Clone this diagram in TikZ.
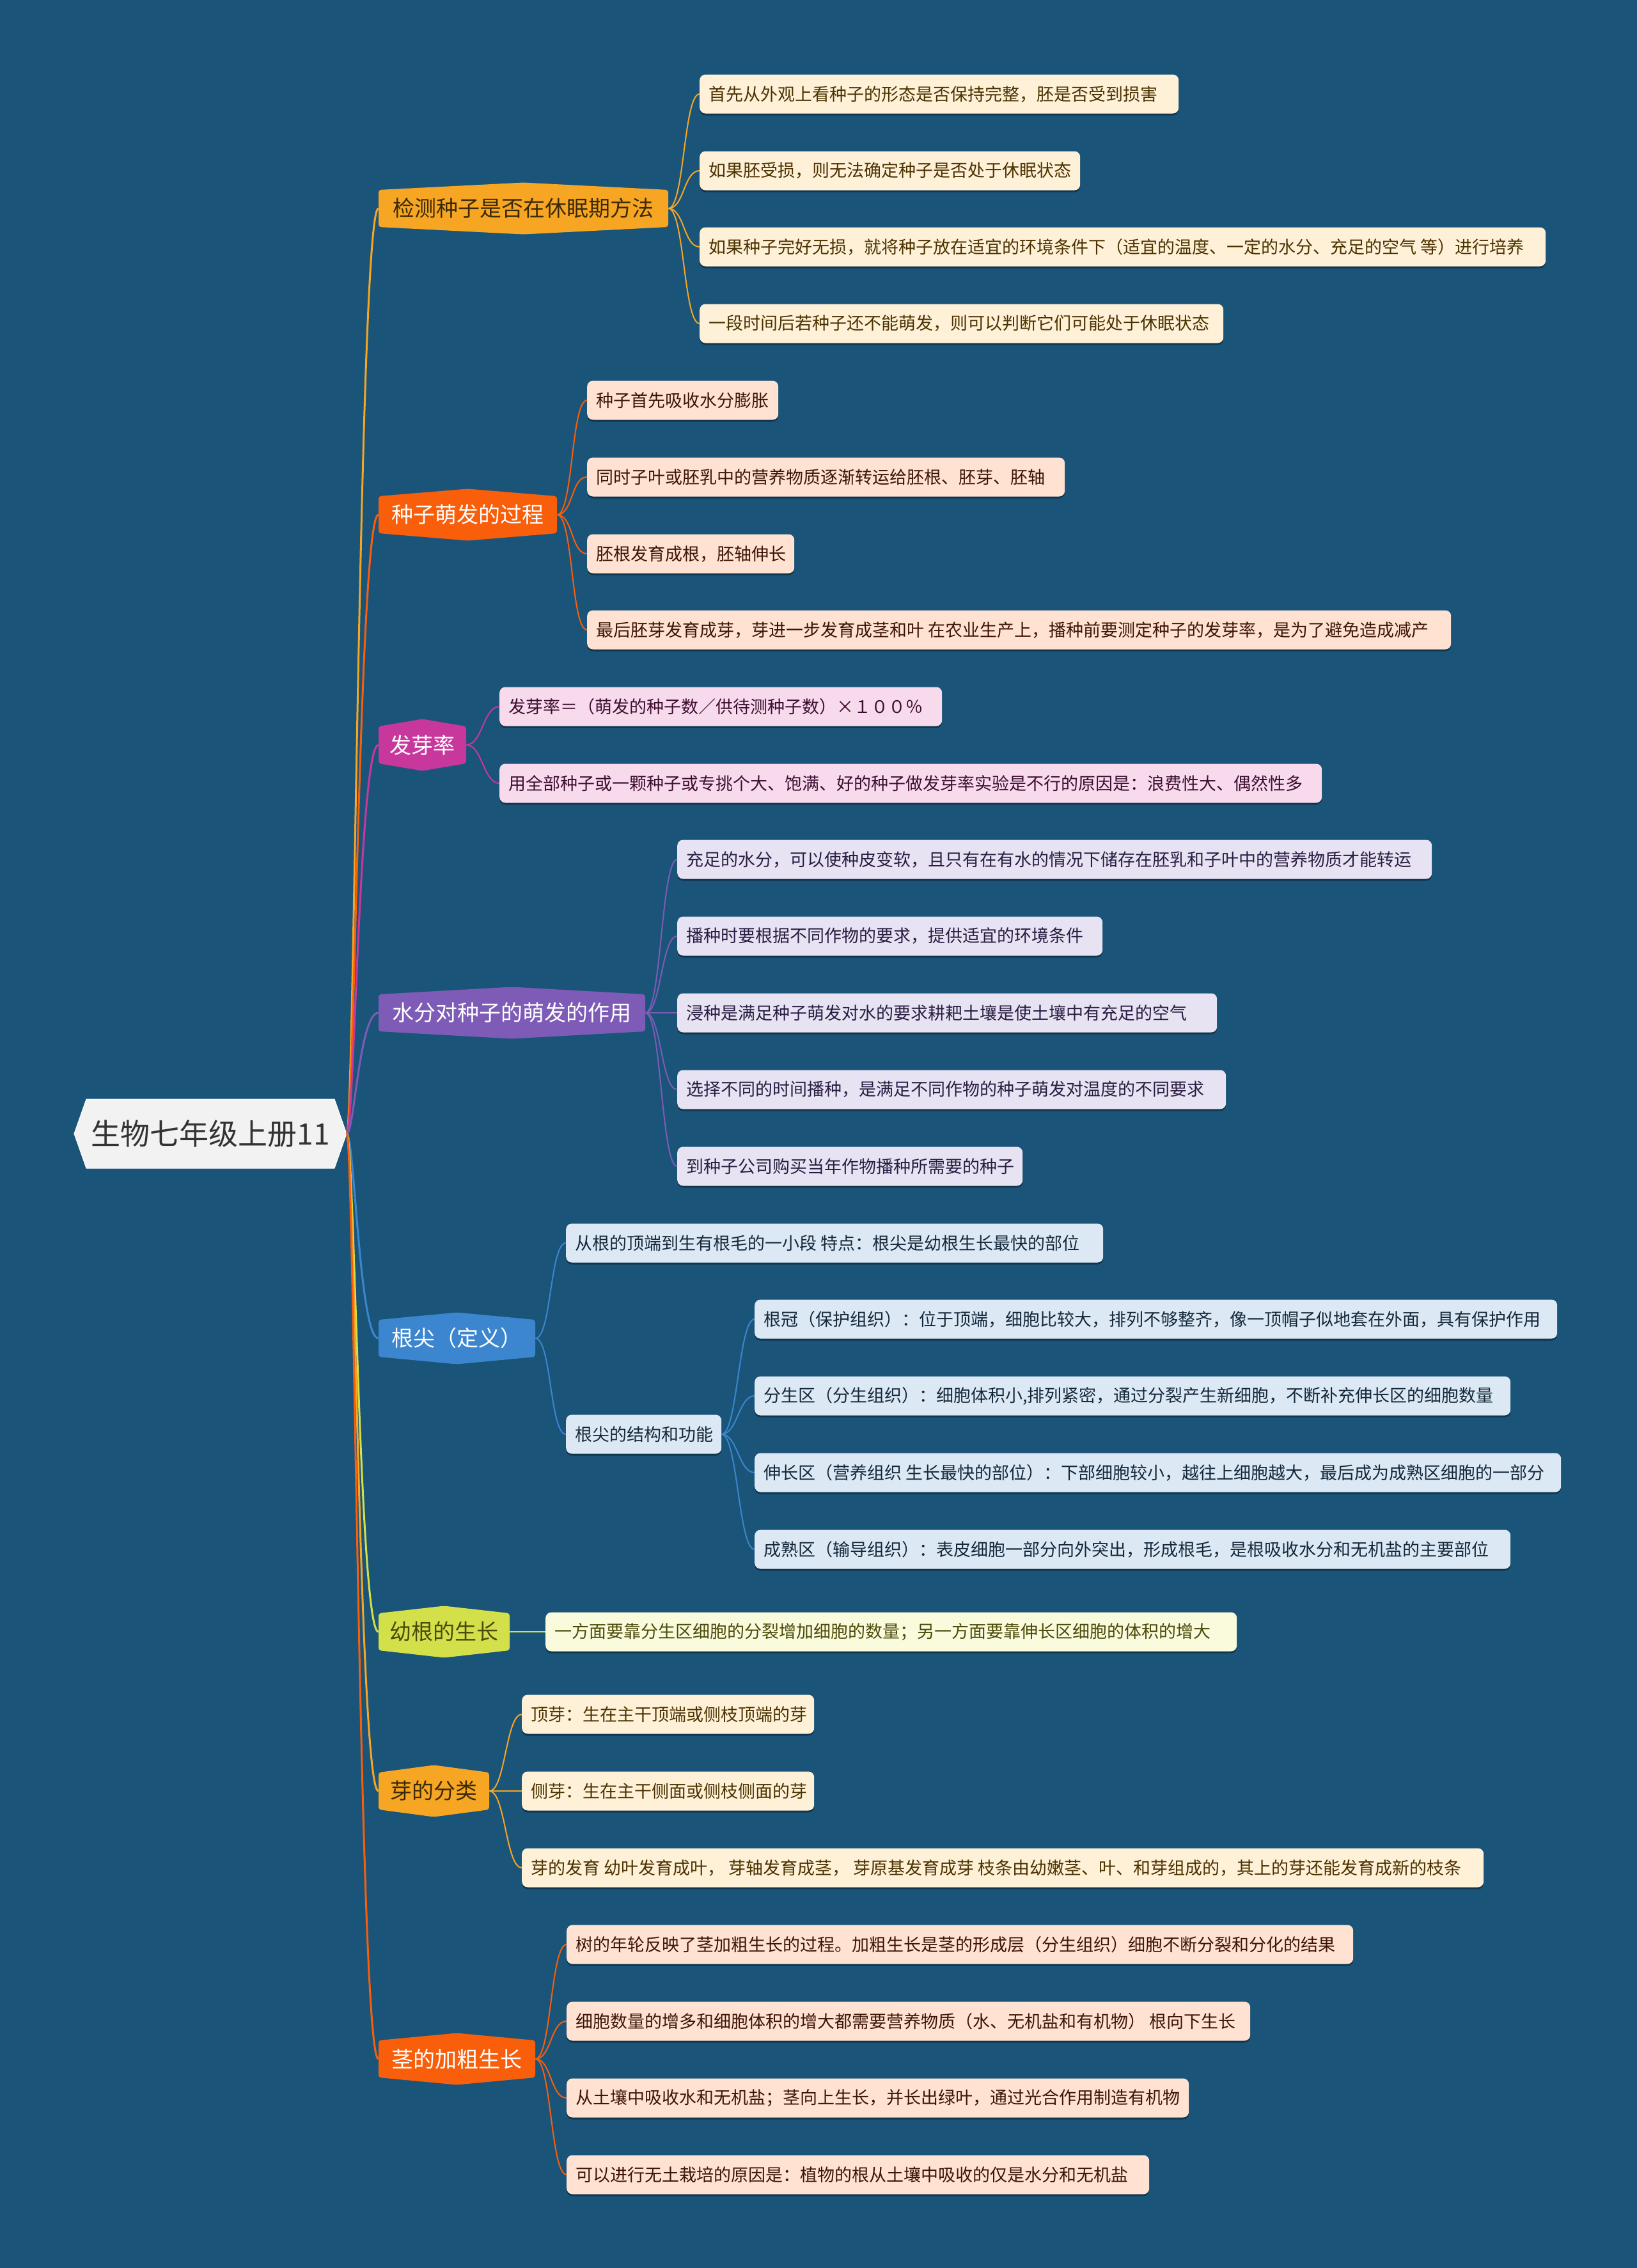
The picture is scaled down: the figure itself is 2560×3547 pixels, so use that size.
\documentclass[tikz,border=0pt]{standalone}
\usepackage{fontspec}
\setmainfont{Noto Sans CJK SC}
\usetikzlibrary{shadows}
\definecolor{bgc}{HTML}{1B5479}
\definecolor{cA}{HTML}{F6A623}
\definecolor{cB}{HTML}{F95E0B}
\definecolor{cC}{HTML}{C8389C}
\definecolor{cD}{HTML}{7D5BB6}
\definecolor{cE}{HTML}{3B86CF}
\definecolor{cF}{HTML}{D3E04A}
\definecolor{fA}{HTML}{FFF1D8}
\definecolor{fB}{HTML}{FFE2D2}
\definecolor{fC}{HTML}{F7DAEC}
\definecolor{fD}{HTML}{E8E3F3}
\definecolor{fE}{HTML}{DCE9F5}
\definecolor{fF}{HTML}{FAFADC}
\definecolor{tA}{HTML}{4B3200}
\definecolor{tB}{HTML}{3D1505}
\definecolor{tC}{HTML}{3D0D30}
\definecolor{tD}{HTML}{2A1D42}
\definecolor{tE}{HTML}{15283A}
\definecolor{tF}{HTML}{4A4A0A}
\definecolor{tM}{HTML}{3B2A05}
\definecolor{rootf}{HTML}{F2F2F2}
\definecolor{roott}{HTML}{333333}
\tikzset{
  leafbox/.style={rounded corners=9bp, minimum height=61bp, inner xsep=14bp, inner ysep=0bp,
    font=\fontsize{27bp}{32bp}\selectfont,
    drop shadow={shadow xshift=0bp, shadow yshift=-3bp, fill=black, opacity=0.35}},
  mainbox/.style={inner sep=0bp, minimum height=58bp, font=\fontsize{34bp}{40bp}\selectfont},
  link/.style={line width=2bp},
  rootlink/.style={line width=3bp},
}
\newcommand\leafnode[7]{%
  \pgfmathsetmacro\lw{#5-#4}%
  \node[leafbox, fill=#2, text=#3, minimum width=\lw bp, anchor=west] (#1) at (#4,#6) {\makebox[\dimexpr\lw bp-28bp\relax][l]{#7}};%
}
\newcommand\mainnode[7]{%
  \pgfmathsetmacro\mx{(#4+#5)/2}%
  \pgfmathsetmacro\mw{#5-#4}%
  \fill[#2, rounded corners=4bp] (#4,#6-29) -- (\mx,#6-40.5) -- (#5,#6-29) -- (#5,#6+29) -- (\mx,#6+40.5) -- (#4,#6+29) -- cycle;%
  \node[mainbox, text=#3, minimum width=\mw bp] (#1) at (\mx,#6) {#7};%
}
\begin{document}
\begin{tikzpicture}[x=1bp,y=-1bp]
\useasboundingbox (0,0) rectangle (2560,3547);
\fill[bgc] (0,0) rectangle (2560,3547);

% root
\fill[rootf, draw=white, line width=1bp] (116,1773) -- (135,1719) -- (523,1719) -- (542,1773) -- (523,1827) -- (135,1827) -- cycle;
\node[inner sep=0bp, minimum width=426bp, minimum height=108bp, text=roott, font=\fontsize{46bp}{54bp}\selectfont] (root) at (329,1773) {生物七年级上册11};

% main branches
\mainnode{m1}{cA}{tM}{592}{1045}{326}{检测种子是否在休眠期方法}
\mainnode{m2}{cB}{white}{592}{871}{805}{种子萌发的过程}
\mainnode{m3}{cC}{white}{592}{729}{1165}{发芽率}
\mainnode{m4}{cD}{white}{592}{1009}{1584}{水分对种子的萌发的作用}
\mainnode{m5}{cE}{white}{592}{837}{2093}{根尖（定义）}
\mainnode{m6}{cF}{tF}{592}{797}{2552}{幼根的生长}
\mainnode{m7}{cA}{tM}{592}{765}{2801}{芽的分类}
\mainnode{m8}{cB}{white}{592}{837}{3220}{茎的加粗生长}

% leaves branch 1
\leafnode{l1a}{fA}{tA}{1094}{1843}{147}{首先从外观上看种子的形态是否保持完整，胚是否受到损害}
\leafnode{l1b}{fA}{tA}{1094}{1689}{267}{如果胚受损，则无法确定种子是否处于休眠状态}
\leafnode{l1c}{fA}{tA}{1094}{2417}{386}{如果种子完好无损，就将种子放在适宜的环境条件下（适宜的温度、一定的水分、充足的空气 等）进行培养}
\leafnode{l1d}{fA}{tA}{1094}{1913}{506}{一段时间后若种子还不能萌发，则可以判断它们可能处于休眠状态}
% branch 2
\leafnode{l2a}{fB}{tB}{918}{1217}{626}{种子首先吸收水分膨胀}
\leafnode{l2b}{fB}{tB}{918}{1665}{746}{同时子叶或胚乳中的营养物质逐渐转运给胚根、胚芽、胚轴}
\leafnode{l2c}{fB}{tB}{918}{1242}{866}{胚根发育成根，胚轴伸长}
\leafnode{l2d}{fB}{tB}{918}{2269}{985}{最后胚芽发育成芽，芽进一步发育成茎和叶 在农业生产上，播种前要测定种子的发芽率，是为了避免造成减产}
% branch 3
\leafnode{l3a}{fC}{tC}{781}{1473}{1105}{发芽率＝（萌发的种子数／供待测种子数）×１００％}
\leafnode{l3b}{fC}{tC}{781}{2067}{1225}{用全部种子或一颗种子或专挑个大、饱满、好的种子做发芽率实验是不行的原因是：浪费性大、偶然性多}
% branch 4
\leafnode{l4a}{fD}{tD}{1059}{2239}{1344}{充足的水分，可以使种皮变软，且只有在有水的情况下储存在胚乳和子叶中的营养物质才能转运}
\leafnode{l4b}{fD}{tD}{1059}{1724}{1464}{播种时要根据不同作物的要求，提供适宜的环境条件}
\leafnode{l4c}{fD}{tD}{1059}{1903}{1584}{浸种是满足种子萌发对水的要求耕耙土壤是使土壤中有充足的空气}
\leafnode{l4d}{fD}{tD}{1059}{1917}{1704}{选择不同的时间播种，是满足不同作物的种子萌发对温度的不同要求}
\leafnode{l4e}{fD}{tD}{1059}{1599}{1824}{到种子公司购买当年作物播种所需要的种子}
% branch 5
\leafnode{l5a}{fE}{tE}{885}{1725}{1944}{从根的顶端到生有根毛的一小段 特点：根尖是幼根生长最快的部位}
\leafnode{l5b}{fE}{tE}{885}{1128}{2243}{根尖的结构和功能}
\leafnode{l5c1}{fE}{tE}{1180}{2435}{2063}{根冠（保护组织）：位于顶端，细胞比较大，排列不够整齐，像一顶帽子似地套在外面，具有保护作用}
\leafnode{l5c2}{fE}{tE}{1180}{2362}{2183}{分生区（分生组织）：细胞体积小,排列紧密，通过分裂产生新细胞，不断补充伸长区的细胞数量}
\leafnode{l5c3}{fE}{tE}{1180}{2441}{2303}{伸长区（营养组织 生长最快的部位）：下部细胞较小，越往上细胞越大，最后成为成熟区细胞的一部分}
\leafnode{l5c4}{fE}{tE}{1180}{2362}{2423}{成熟区（输导组织）：表皮细胞一部分向外突出，形成根毛，是根吸收水分和无机盐的主要部位}
% branch 6
\leafnode{l6a}{fF}{tF}{853}{1934}{2552}{一方面要靠分生区细胞的分裂增加细胞的数量；另一方面要靠伸长区细胞的体积的增大}
% branch 7
\leafnode{l7a}{fA}{tA}{816}{1273}{2681}{顶芽：生在主干顶端或侧枝顶端的芽}
\leafnode{l7b}{fA}{tA}{816}{1273}{2801}{侧芽：生在主干侧面或侧枝侧面的芽}
\leafnode{l7c}{fA}{tA}{816}{2320}{2921}{芽的发育 幼叶发育成叶， 芽轴发育成茎， 芽原基发育成芽 枝条由幼嫩茎、叶、和芽组成的，其上的芽还能发育成新的枝条}
% branch 8
\leafnode{l8a}{fB}{tB}{886}{2116}{3041}{树的年轮反映了茎加粗生长的过程。加粗生长是茎的形成层（分生组织）细胞不断分裂和分化的结果}
\leafnode{l8b}{fB}{tB}{886}{1955}{3161}{细胞数量的增多和细胞体积的增大都需要营养物质（水、无机盐和有机物） 根向下生长}
\leafnode{l8c}{fB}{tB}{886}{1859}{3281}{从土壤中吸收水和无机盐；茎向上生长，并长出绿叶，通过光合作用制造有机物}
\leafnode{l8d}{fB}{tB}{886}{1797}{3401}{可以进行无土栽培的原因是：植物的根从土壤中吸收的仅是水分和无机盐}

% root connectors
\draw[rootlink, cA] (root.east) .. controls +(12,0) and +(-30,0) .. (m1.west);
\draw[rootlink, cB] (root.east) .. controls +(12,0) and +(-30,0) .. (m2.west);
\draw[rootlink, cC] (root.east) .. controls +(12,0) and +(-30,0) .. (m3.west);
\draw[rootlink, cD] (root.east) .. controls +(12,0) and +(-30,0) .. (m4.west);
\draw[rootlink, cE] (root.east) .. controls +(12,0) and +(-30,0) .. (m5.west);
\draw[rootlink, cF] (root.east) .. controls +(12,0) and +(-30,0) .. (m6.west);
\draw[rootlink, cA] (root.east) .. controls +(12,0) and +(-30,0) .. (m7.west);
\draw[rootlink, cB] (root.east) .. controls +(12,0) and +(-30,0) .. (m8.west);

% leaf connectors
\foreach \c in {l1a,l1b,l1c,l1d} \draw[link, cA] (m1.east) .. controls +(25,0) and +(-25,0) .. (\c.west);
\foreach \c in {l2a,l2b,l2c,l2d} \draw[link, cB] (m2.east) .. controls +(25,0) and +(-25,0) .. (\c.west);
\foreach \c in {l3a,l3b} \draw[link, cC] (m3.east) .. controls +(25,0) and +(-25,0) .. (\c.west);
\foreach \c in {l4a,l4b,l4c,l4d,l4e} \draw[link, cD] (m4.east) .. controls +(25,0) and +(-25,0) .. (\c.west);
\foreach \c in {l5a,l5b} \draw[link, cE] (m5.east) .. controls +(25,0) and +(-25,0) .. (\c.west);
\foreach \c in {l5c1,l5c2,l5c3,l5c4} \draw[link, cE] (l5b.east) .. controls +(25,0) and +(-25,0) .. (\c.west);
\draw[link, cF] (m6.east) .. controls +(25,0) and +(-25,0) .. (l6a.west);
\foreach \c in {l7a,l7b,l7c} \draw[link, cA] (m7.east) .. controls +(25,0) and +(-25,0) .. (\c.west);
\foreach \c in {l8a,l8b,l8c,l8d} \draw[link, cB] (m8.east) .. controls +(25,0) and +(-25,0) .. (\c.west);
\end{tikzpicture}
\end{document}
